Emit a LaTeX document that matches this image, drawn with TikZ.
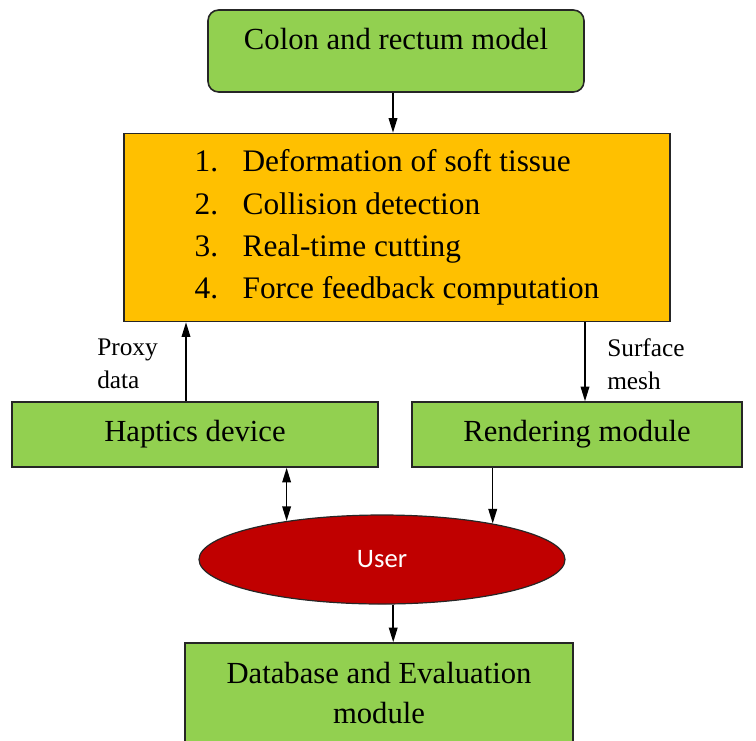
\documentclass[tikz,border=0pt]{standalone}
\usepackage{fontspec}
\setmainfont{Liberation Serif}
\newfontfamily\userfont{Carlito}
\usetikzlibrary{positioning,arrows.meta,shapes.geometric,calc}
\definecolor{boxgreen}{HTML}{92D050}
\definecolor{boxorange}{HTML}{FFC000}
\definecolor{userred}{HTML}{C00000}

\begin{document}
\begin{tikzpicture}[
  x=0.75pt, y=-0.75pt,
  module/.style={draw=black!85, line width=1.2pt, fill=boxgreen, align=center, font=\fontsize{23}{30}\selectfont, inner sep=0pt},
  core/.style={module, fill=boxorange, align=left},
  userell/.style={ellipse, draw=black!85, line width=0.9pt, fill=userred, text=white, inner sep=0pt, font=\userfont\fontsize{20}{24}\selectfont},
  note/.style={align=left, inner sep=0pt, anchor=west, font=\fontsize{19}{25}\selectfont},
  arrow/.style={-{Triangle[length=11pt,width=6.5pt]}, line width=1.1pt},
  dblarrow/.style={arrow, {Triangle[length=11pt,width=6.5pt]}-{Triangle[length=11pt,width=6.5pt]}}
]
\useasboundingbox (0,0) rectangle (756,740);

\node[module, rounded corners=8pt, minimum width=282pt, minimum height=61.5pt, text height=16pt, text depth=18pt] (colon) at (396,51) {Colon and rectum model};
\node[core, minimum width=409.5pt, minimum height=141pt, font=\fontsize{23.5}{31.8}\selectfont] (tasks) at (397,227.5)
  {\makebox[36pt][l]{1.}Deformation of soft tissue\\
   \makebox[36pt][l]{2.}Collision detection\\
   \makebox[36pt][l]{3.}Real-time cutting\\
   \makebox[36pt][l]{4.}Force feedback computation};
\node[module, minimum width=274.5pt, minimum height=48.75pt] (haptics) at (195,434.5) {Haptics device};
\node[module, minimum width=247.5pt, minimum height=48.75pt] (render) at (577,434.5) {Rendering module};
\node[userell, minimum width=274.5pt, minimum height=66.75pt] (user) at (382,559.5) {User};
\node[module, minimum width=291pt, minimum height=75pt] (db) at (379,693) {Database and Evaluation\\module};

\node[note] (proxy) at (97,364) {Proxy\\data};
\node[note] (surface) at (607,364) {Surface\\mesh};

\draw[arrow] ([xshift=-2.25pt]colon.south) -- ([xshift=-2.25pt]colon.south |- tasks.north);
\draw[arrow] ([xshift=-6.75pt]haptics.north) -- ([xshift=-6.75pt]haptics.north |- tasks.south);
\draw[arrow] ([xshift=6pt]render.north |- tasks.south) -- ([xshift=6pt]render.north);
\draw[dblarrow] (user.158.5 |- haptics.south) -- (user.158.5);
\draw[arrow] (user.18.1 |- render.south) -- (user.18.1);
\draw[arrow] (user.-76) -- (user.-76 |- db.north);

\end{tikzpicture}
\end{document}
